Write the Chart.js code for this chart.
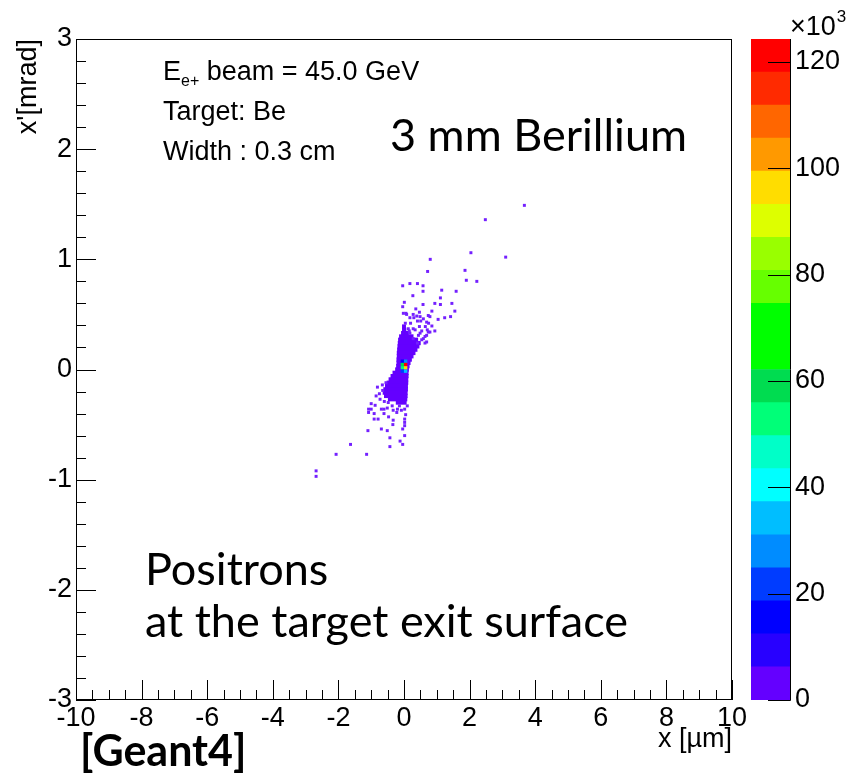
<!DOCTYPE html>
<html>
<head>
<meta charset="utf-8">
<script src="https://cdn.jsdelivr.net/npm/chart.js@4.4.0/dist/chart.umd.min.js"></script>
<style>
  html, body { margin: 0; padding: 0; background: #fff; }
  #wrap { position: relative; width: 846px; height: 778px; }
  #main { position: absolute; left: 0; top: 0; }
  #zbar { position: absolute; left: 740px; top: 0; }
</style>
</head>
<body>
<div id="wrap">
  <canvas id="main" width="846" height="778"></canvas>
  <canvas id="zbar" width="106" height="778"></canvas>
</div>
<script>
// axis ranges and tick labels
const xRange = [-10, 10];
const yRange = [-3, 3];
const xTicks = [-10, -8, -6, -4, -2, 0, 2, 4, 6, 8, 10];
const yTicks = [-3, -2, -1, 0, 1, 2, 3];
const zTicks = [0, 20, 40, 60, 80, 100, 120];
const zMax = 124.3; // x10^3 entries, top of the colour scale

// colour palette, bottom (lowest) to top
const palette = [
  '#6400ff', '#2800ff', '#0000ff', '#003cff', '#008cff',
  '#00beff', '#00ffff', '#00ffc8', '#00ff78', '#00dc50',
  '#00ff00', '#00ff00', '#66ff00', '#99ff00', '#ddff00',
  '#ffdd00', '#ff9900', '#ff6600', '#ff2a00', '#ff0000'
];

// isolated filled bins (x in um, x' in mrad)
const sparseX = [
  3.67, 2.48, 2.04, 3.10, 0.80, 0.72, 1.86, 1.90, 2.22,
  -0.04, 0.18, 0.41, 0.58, 0.58, 1.15, 1.59, 0.27, 1.11, 0.01, -0.04, 0.58, 0.94, 1.11, 1.46, 0.36,
  -0.02, 0.06, 0.47, 0.85, 0.18, 0.30, 0.49, 0.59, 0.79, 1.04, 0.04, 0.20, 0.41, 0.75, 0.47, 0.65, 0.85, 0.28, 0.16, 0.71, 0.49,
  1.42, 1.24, 1.55, 0.94, 0.79, 0.69, 0.59, 0.64,
  0.08, 0.28, 0.39, 0.74, 0.51, 0.69, 0.13, 0.34, 0.54, 0.74, 0.18, 0.44, 0.64, 0.28, 0.54, 0.69, 0.41,
  -0.81, -0.65, -0.75, -0.85, -0.73, -1.00, -0.88, -1.08, -1.00, -0.69, -0.61, -0.51, -1.08, -0.91, -0.61,
  -0.33, -0.20, -0.08, 0.02, -0.22, -0.47, -0.91, -0.79, -0.33, 0.02, 0.02, -0.34, 0.02, -1.10, -0.69,
  -0.51, -0.04, 0.02, -0.43, -0.12, -1.63, -0.04, -0.43, -2.07, -1.14, -2.68, -2.68,
  -0.55, -0.66, -0.48, -0.60, -0.36, 0.10, 0.05, -0.14
];
const sparseY = [
  1.49, 1.36, 1.06, 1.02, 1.00, 0.89, 0.90, 0.81, 0.80,
  0.76, 0.78, 0.78, 0.76, 0.71, 0.72, 0.71, 0.67, 0.65, 0.61, 0.57, 0.59, 0.60, 0.59, 0.60, 0.55,
  0.51, 0.51, 0.52, 0.53, 0.47, 0.47, 0.48, 0.46, 0.48, 0.455, 0.42, 0.42, 0.44, 0.42, 0.39, 0.39, 0.395, 0.37, 0.35, 0.36, 0.33,
  0.48, 0.47, 0.53, 0.35, 0.34, 0.31, 0.28, 0.24,
  0.50, 0.50, 0.485, 0.49, 0.44, 0.43, 0.37, 0.36, 0.35, 0.34, 0.33, 0.31, 0.30, 0.28, 0.27, 0.25, 0.24,
  -0.16, -0.19, -0.22, -0.24, -0.27, -0.31, -0.325, -0.36, -0.36, -0.36, -0.36, -0.35, -0.39, -0.40, -0.40,
  -0.37, -0.36, -0.37, -0.36, -0.39, -0.43, -0.45, -0.45, -0.46, -0.45, -0.48, -0.50, -0.51, -0.555, -0.54,
  -0.555, -0.54, -0.60, -0.62, -0.65, -0.68, -0.68, -0.70, -0.77, -0.77, -0.92, -0.97,
  -0.12, -0.14, -0.30, -0.29, -0.33, -0.33, -0.41, -0.33
];

// dense core: one row of filled bins per x' bin, from coreXLo to coreXHi
const coreY   = [0.39, 0.36, 0.33, 0.30, 0.27, 0.24, 0.21, 0.18, 0.15, 0.12, 0.09, 0.06,
                 0.03, 0.00, -0.03, -0.06, -0.09, -0.12, -0.15, -0.18, -0.21, -0.24, -0.27, -0.30];
const coreXLo = [-0.05, -0.05, -0.08, -0.14, -0.17, -0.18, -0.19, -0.20, -0.21, -0.21, -0.22, -0.22,
                 -0.23, -0.26, -0.34, -0.40, -0.46, -0.52, -0.57, -0.62, -0.64, -0.60, -0.48, -0.24];
const coreXHi = [0.05, 0.06, 0.14, 0.28, 0.42, 0.50, 0.46, 0.40, 0.34, 0.28, 0.23, 0.19,
                 0.16, 0.14, 0.13, 0.13, 0.12, 0.12, 0.11, 0.11, 0.10, 0.10, 0.09, 0.07];

// hottest bins in the centre, with content (x10^3)
const hotX = [-0.05, 0.05, -0.05, 0.05, -0.05, 0.05, -0.05, 0.05];
const hotY = [0.075, 0.075, 0.045, 0.045, 0.015, 0.015, -0.015, -0.015];
const hotZ = [15, 25, 60, 124, 50, 95, 20, 35];

const rootFont = '"Liberation Sans", Arial, sans-serif';
Chart.defaults.color = '#000';

function zColor(v) {
  const i = Math.min(palette.length - 1, Math.floor(v / (zMax / palette.length)));
  return palette[Math.max(0, i)];
}

// ROOT-style frame with ticks drawn inside it
const frame = {
  id: 'frame',
  afterDraw(chart) {
    const { ctx, chartArea: a, scales: { x, y } } = chart;
    ctx.save();
    ctx.strokeStyle = '#000';
    ctx.lineWidth = 1;
    ctx.strokeRect(a.left + 0.5, a.top + 0.5, a.right - a.left - 1, a.bottom - a.top - 1);
    ctx.beginPath();
    for (let k = 0; k <= 40; k++) {
      const v = xRange[0] + k * 0.5;
      const px = Math.round(x.getPixelForValue(v)) + 0.5;
      const len = k % 4 === 0 ? 20 : 10;
      ctx.moveTo(px, a.bottom);
      ctx.lineTo(px, a.bottom - len);
    }
    for (let k = 0; k <= 30; k++) {
      const v = yRange[0] + k * 0.2;
      const py = Math.round(y.getPixelForValue(v)) + 0.5;
      const len = k % 5 === 0 ? 20 : 10;
      ctx.moveTo(a.left, py);
      ctx.lineTo(a.left + len, py);
    }
    ctx.stroke();
    ctx.restore();
  }
};

const annot = {
  id: 'annot',
  afterDraw(chart) {
    const ctx = chart.ctx;
    ctx.save();
    ctx.fillStyle = '#000';
    ctx.textAlign = 'left';
    ctx.textBaseline = 'alphabetic';
    const x0 = 163;
    ctx.font = '27px ' + rootFont;
    ctx.fillText('E', x0, 80);
    const w1 = ctx.measureText('E').width;
    ctx.font = '16px ' + rootFont;
    ctx.fillText('e+', x0 + w1, 86);
    const w2 = ctx.measureText('e+').width;
    ctx.font = '27px ' + rootFont;
    ctx.fillText(' beam = 45.0 GeV', x0 + w1 + w2, 80);
    ctx.fillText('Target: Be', x0, 120);
    ctx.fillText('Width : 0.3 cm', x0, 160);

    ctx.font = '45px Lato, "Open Sans", sans-serif';
    ctx.fillText('3 mm Berillium', 390, 151);
    ctx.fillText('Positrons', 145, 585);
    ctx.fillText('at the target exit surface', 145, 637);
    ctx.font = 'bold 43px Lato, "Open Sans", sans-serif';
    ctx.fillText('[Geant4]', 80, 766);
    ctx.restore();
  }
};

new Chart(document.getElementById('main'), {
  type: 'scatter',
  data: {
    datasets: [
      {
        label: 'hot',
        data: hotX.map((x, i) => ({ x, y: hotY[i] })),
        pointStyle: 'rect',
        pointRadius: 2.4,
        borderWidth: 0,
        backgroundColor: ctx => zColor(hotZ[ctx.dataIndex])
      },
      {
        label: 'sparse',
        data: sparseX.map((x, i) => ({ x, y: sparseY[i] })),
        pointStyle: 'rect',
        pointRadius: 2.1,
        borderWidth: 0,
        backgroundColor: '#7420ff'
      },
      {
        type: 'bar',
        label: 'core',
        indexAxis: 'y',
        data: coreY.map((y, i) => ({ x: [coreXLo[i], coreXHi[i]], y })),
        backgroundColor: palette[0],
        borderWidth: 0,
        borderSkipped: false,
        barThickness: 3.6
      }
    ]
  },
  options: {
    responsive: false,
    animation: false,
    events: [],
    layout: { padding: { left: 0, top: 39, right: 114, bottom: 0 } },
    plugins: { legend: { display: false }, tooltip: { enabled: false } },
    scales: {
      x: {
        type: 'linear',
        position: 'bottom',
        min: xRange[0],
        max: xRange[1],
        offset: false,
        afterBuildTicks: s => { s.ticks = xTicks.map(v => ({ value: v })); },
        afterFit: s => { s.height = 78; },
        grid: { display: false, drawTicks: false, offset: false },
        border: { display: false },
        ticks: { autoSkip: false, maxRotation: 0, padding: 2, font: { family: rootFont, size: 27 } },
        title: { display: true, text: 'x [µm]', align: 'end', padding: { top: 0, bottom: 22 },
                 font: { family: rootFont, size: 27 } }
      },
      y: {
        type: 'linear',
        position: 'left',
        min: yRange[0],
        max: yRange[1],
        offset: false,
        afterBuildTicks: s => { s.ticks = yTicks.map(v => ({ value: v })); },
        afterFit: s => { s.width = 76; },
        grid: { display: false, drawTicks: false, offset: false },
        border: { display: false },
        ticks: { autoSkip: false, padding: 4, font: { family: rootFont, size: 27 } },
        title: { display: true, text: "x'[mrad]", align: 'end', padding: { top: 12, bottom: 0 },
                 font: { family: rootFont, size: 27 } }
      }
    }
  },
  plugins: [frame, annot]
});

// colour scale
const zDeco = {
  id: 'zDeco',
  afterDraw(chart) {
    const { ctx, chartArea: a, scales: { y } } = chart;
    ctx.save();
    ctx.strokeStyle = '#000';
    ctx.lineWidth = 1;
    ctx.beginPath();
    ctx.moveTo(a.right + 0.5, a.top);
    ctx.lineTo(a.right + 0.5, a.bottom + 0.5);
    zTicks.forEach(v => {
      const py = Math.round(y.getPixelForValue(v)) + 0.5;
      ctx.moveTo(a.right - 22, py);
      ctx.lineTo(a.right + 0.5, py);
    });
    ctx.stroke();
    ctx.fillStyle = '#000';
    ctx.textBaseline = 'alphabetic';
    ctx.font = '27px ' + rootFont;
    ctx.fillText('×10', a.right, 35);
    const w = ctx.measureText('×10').width;
    ctx.font = '17px ' + rootFont;
    ctx.fillText('3', a.right + w + 1, 22);
    ctx.restore();
  }
};

new Chart(document.getElementById('zbar'), {
  type: 'bar',
  data: {
    labels: [''],
    datasets: palette.map(c => ({
      data: [zMax / palette.length],
      backgroundColor: c,
      borderWidth: 0,
      barPercentage: 1,
      categoryPercentage: 1,
      stack: 'z'
    }))
  },
  options: {
    responsive: false,
    animation: false,
    events: [],
    layout: { padding: { left: 11, top: 39, right: 0, bottom: 78 } },
    plugins: { legend: { display: false }, tooltip: { enabled: false } },
    scales: {
      x: { display: false, stacked: true },
      y: {
        stacked: true,
        position: 'right',
        min: 0,
        max: zMax,
        afterBuildTicks: s => { s.ticks = zTicks.map(v => ({ value: v })); },
        afterFit: s => { s.width = 56; },
        grid: { display: false, drawTicks: false },
        border: { display: false },
        ticks: { padding: 5, font: { family: rootFont, size: 27 } }
      }
    }
  },
  plugins: [zDeco]
});
</script>
</body>
</html>
